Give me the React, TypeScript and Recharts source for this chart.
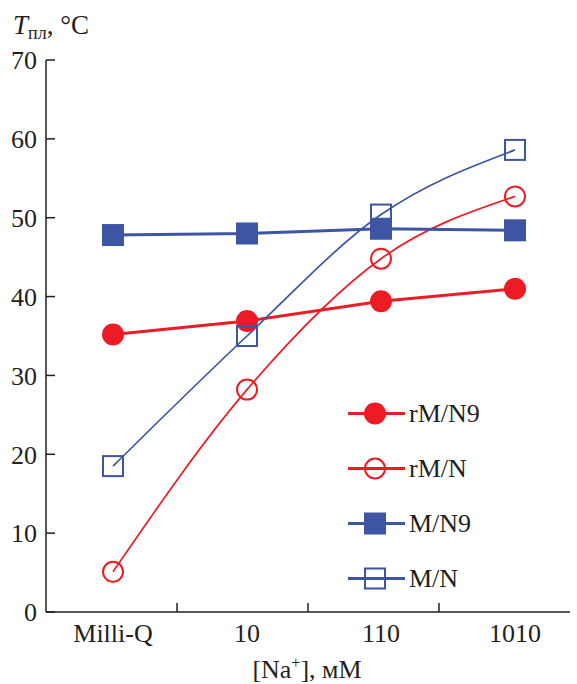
import { LineChart, Line, XAxis, YAxis } from "recharts";

const categories = ["Milli-Q", "10", "110", "1010"];
const rMN9 = [35.2, 36.9, 39.4, 41.0];
const rMN = [5.1, 28.2, 44.8, 52.7];
const MN9 = [47.8, 48.0, 48.6, 48.4];
const MN = [18.5, 35.0, 50.4, 58.6];
const yTicks = [0, 10, 20, 30, 40, 50, 60, 70];
const boundaryTicks = [1, 2, 3];

const RED = "#ed1c24";
const BLUE = "#3d55a3";
const INK = "#231f20";
const FONT = "'Liberation Serif', 'Times New Roman', serif";

const data = categories.map((c, i) => ({
    cat: c,
    rMN9: rMN9[i],
    rMN: rMN[i],
    MN9: MN9[i],
    MN: MN[i],
}));

type Marker = "disc" | "ring" | "box" | "frame";

const SERIES: { key: string, name: string, color: string, width: number, marker: Marker, curve: "linear" | "monotone" }[] = [
    { key: "rMN9", name: "rM/N9", color: RED, width: 3, marker: "disc", curve: "linear" },
    { key: "rMN", name: "rM/N", color: RED, width: 1.7, marker: "ring", curve: "monotone" },
    { key: "MN9", name: "M/N9", color: BLUE, width: 3, marker: "box", curve: "linear" },
    { key: "MN", name: "M/N", color: BLUE, width: 1.7, marker: "frame", curve: "monotone" },
];

function drawMarker(marker: Marker, cx: number, cy: number, color: string, key?: string) {
    if (marker === "disc") return <circle key={key} cx={cx} cy={cy} r={11} fill={color} />;
    if (marker === "ring") return <circle key={key} cx={cx} cy={cy} r={10} fill="none" stroke={color} strokeWidth={2} />;
    if (marker === "box") return <rect key={key} x={cx - 11} y={cy - 11} width={22} height={22} fill={color} />;
    return <rect key={key} x={cx - 10} y={cy - 10} width={20} height={20} fill="none" stroke={color} strokeWidth={2} />;
}

function ChartLegend() {
    return (
        <div style={{ position: "absolute", left: 346, top: 386 }}>
            {SERIES.map(s => (
                <div key={s.key} style={{ display: "flex", alignItems: "center", height: 55 }}>
                    <svg width={62} height={55}>
                        <line x1={2} x2={59} y1={27.5} y2={27.5} stroke={s.color} strokeWidth={3} />
                        {drawMarker(s.marker, 29, 27.5, s.color)}
                    </svg>
                    <span style={{ fontFamily: FONT, fontSize: 26, color: INK, marginLeft: 1 }}>{s.name}</span>
                </div>
            ))}
        </div>
    );
}

export default function App() {
    return (
        <div style={{ position: "absolute", left: 0, top: 0, width: 577, height: 684, background: "#fff", fontFamily: FONT, color: INK }}>
            <div style={{ position: "absolute", left: 13, top: 10, fontSize: 27, whiteSpace: "nowrap" }}>
                <i>T</i><span style={{ fontSize: 18, position: "relative", top: 5 }}>пл</span>, °C
            </div>
            <LineChart width={577} height={684} data={data} margin={{ top: 60, right: 7, left: 0, bottom: 0 }}>
                {/* boundary tick marks between categories, pointing inward */}
                <XAxis xAxisId="num" type="number" dataKey={() => 0} domain={[0, 4]} ticks={boundaryTicks}
                    height={1} axisLine={false} tickSize={9} mirror tick={() => <g />}
                    tickLine={{ stroke: INK, strokeWidth: 1.5 }} />
                <XAxis xAxisId="cat" dataKey="cat" scale="point" padding={{ left: 67, right: 55 }} height={72}
                    axisLine={{ stroke: INK, strokeWidth: 1.5 }} tickLine={false} tickMargin={6}
                    tick={{ fontFamily: FONT, fontSize: 26, fill: INK }} interval={0} />
                <YAxis width={46} domain={[0, 70]} ticks={yTicks} interval={0}
                    axisLine={{ stroke: INK, strokeWidth: 1.5 }} tickSize={-9} tickMargin={18}
                    tickLine={{ stroke: INK, strokeWidth: 1.5 }}
                    tick={{ fontFamily: FONT, fontSize: 26, fill: INK }} />
                {SERIES.map(s => (
                    <Line key={s.key} xAxisId="cat" dataKey={s.key} name={s.name} type={s.curve}
                        stroke={s.color} strokeWidth={s.width} isAnimationActive={false}
                        dot={(p: any) => drawMarker(s.marker, p.cx, p.cy, s.color, `${s.key}-${p.index}`)}
                        activeDot={false} />
                ))}
            </LineChart>
            <ChartLegend />
            <div style={{ position: "absolute", left: 0, width: 577, top: 654, textAlign: "center", paddingLeft: 37, boxSizing: "border-box", fontSize: 26, whiteSpace: "nowrap" }}>
                [Na<sup style={{ fontSize: 16 }}>+</sup>], мМ
            </div>
        </div>
    );
}
